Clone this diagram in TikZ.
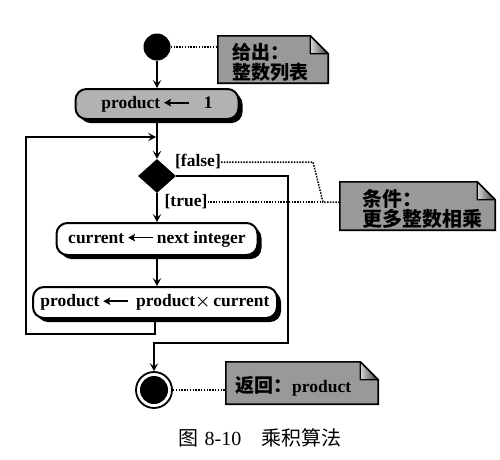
\documentclass[tikz,border=0pt]{standalone}
\usepackage{fontspec}
\setmainfont{Liberation Serif}
\newfontfamily\cjk{Noto Sans CJK SC}
\usetikzlibrary{arrows.meta,shapes.geometric,shadows}
\definecolor{notefill}{gray}{0.60}
\definecolor{actfill}{gray}{0.70}
\newcommand\mynote[1]{%
  \fill[notefill,draw=black,line width=1.6pt] (#1.north west) -- ([xshift=-18pt]#1.north east) -- ([yshift=-18pt]#1.north east) -- (#1.south east) -- (#1.south west) -- cycle;
  \shade[left color=black!15,right color=black!80,draw=black,line width=1.3pt,line join=round] ([xshift=-18pt]#1.north east) -- ([xshift=-18pt,yshift=-18pt]#1.north east) -- ([yshift=-18pt]#1.north east) -- cycle;}
\newcommand\larr{\tikz[baseline={(0pt,-5.5pt)},x=1pt,y=1pt]{\draw[line width=1.7pt,{Stealth[length=7pt,width=7.5pt,inset=1.5pt]}-] (0,0) -- (25,0);}}
\begin{document}
\begin{tikzpicture}[x=1pt,y=-1pt,
  every node/.style={font=\bfseries\fontsize{17.5}{19}\selectfont},
  lw/.style={line width=2pt},
  arr/.style={lw,-{Stealth[length=8pt,width=8.5pt,inset=3.5pt]}},
  dotl/.style={line width=1.5pt,dash pattern=on 1.5pt off 1.3pt},
  act/.style={draw,lw,rounded corners=11pt,inner sep=0pt,
    drop shadow={shadow xshift=4pt,shadow yshift=-4pt,opacity=1,fill=black}},
  notebg/.style={inner sep=0pt},
  notetxt/.style={inner sep=0pt,anchor=west,align=left},
  lbl/.style={inner sep=0pt}
]
\useasboundingbox (0,0) rectangle (500,459);

% start
\node[circle,fill=black,minimum size=27pt,inner sep=0pt] (start) at (157,47) {};
% note 1
\node[notebg,minimum width=110pt,minimum height=47pt] (n1) at (273,59.5) {};
\mynote{n1}
\node[notetxt,font=\cjk\bfseries\fontsize{19}{20}\selectfont] (n1t) at (232,62) {给出：\\整数列表};

% init action
\node[act,fill=actfill,minimum width=163pt,minimum height=30pt] (init) at (157,104)
  {product\,\larr\hspace{14pt}1};

% decision
\node[diamond,fill=black,minimum width=38pt,minimum height=34pt,inner sep=0pt] (dia) at (157,176) {};
\node[lbl] (lf) at (198,162) {[false]};
\node[lbl] (lt) at (186,202) {[true]};

% current
\node[act,fill=white,minimum width=201pt,minimum height=32pt] (cur) at (157,239)
  {current\,\larr\,next integer};
% product update
\node[act,fill=white,minimum width=244pt,minimum height=31pt] (prod) at (155,302.5)
  {product\,\larr\hspace{7pt}product{\boldmath$\times$}\,current};

% end
\node[circle,draw,line width=1.8pt,fill=white,minimum size=36pt,inner sep=0pt] (end) at (154,390) {};
\fill (end.center) circle (14pt);

% note 2
\node[notebg,minimum width=155pt,minimum height=48pt] (n2) at (417.5,206) {};
\mynote{n2}
\node[notetxt,font=\cjk\bfseries\fontsize{20}{20}\selectfont] (n2t) at (362,208.5) {条件：\\更多整数相乘};

% note 3
\node[notebg,minimum width=152pt,minimum height=42pt] (n3) at (302,383) {};
\mynote{n3}
\node[notetxt] (n3t) at (235,386) {{\cjk\fontsize{19}{20}\selectfont 返回：}product};

% coordinates
\coordinate (lb) at (26,334);
\coordinate (lj) at (156,137);
\coordinate (fr) at (288,343);
\coordinate (dj1) at (313,162);
\coordinate (dj2) at (323,202);

% connectors
\draw[arr] (start) -- (init.north);
\draw[arr] (init.south) -- (dia.north);
\draw[arr] (dia.south) -- (cur.north);
\draw[arr] (cur.south) -- (prod.north -| cur.south);
\draw[arr] (prod.south) |- (lb) |- (lj);
\draw[arr] (dia.east) -| (fr) -| (end.north);

% dotted note links
\draw[dotl] (start.east) -- (start.east -| n1.west);
\draw[dotl] (end.east) -- (end.east -| n3.west);
\draw[dotl] (lf.east) -- (dj1) -- (dj2) -- (dj2 -| n2.west);
\draw[dotl] (lt.east) -- (dj2);

% caption
\node[font=\mdseries\fontsize{20}{22}\selectfont,inner sep=0pt] (cap) at (260,438)
  {{\cjk 图}\hspace{6pt}8-10\hspace{20pt}{\cjk 乘积算法}};
\end{tikzpicture}
\end{document}
